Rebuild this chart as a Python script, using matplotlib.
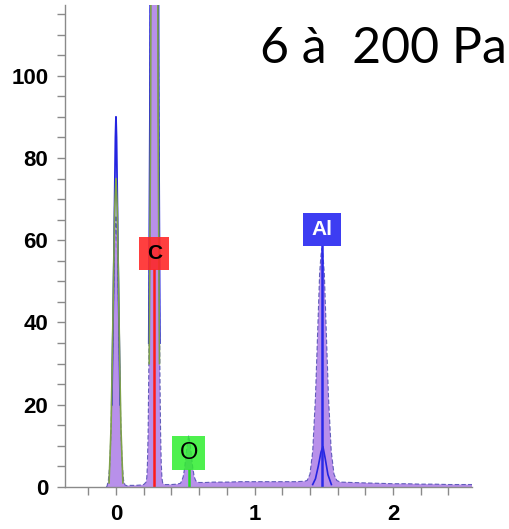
"""
EDS spectrum, low-vacuum mode (6 à 200 Pa).

Re-draw of the acquired spectrum with the C / O / Al line markers.
Output: out.png (510 x 529 px)
"""

import matplotlib
matplotlib.use("Agg")
import matplotlib.pyplot as plt
from matplotlib.patches import Rectangle
from matplotlib.ticker import MultipleLocator, FixedLocator

NAN = float("nan")

# ── Spectrum (energy in keV, counts) ──────────────────────────────────────────
energy = [
    -0.07, -0.065, -0.055, -0.045, -0.036, -0.027, -0.018, -0.009, 0.0,
    0.009, 0.018, 0.027, 0.036, 0.045, 0.055, 0.065, 0.08, 0.10, 0.14,
    0.18, 0.20, 0.217, 0.222, 0.227, 0.232, 0.237, 0.242, 0.247, 0.252,
    0.257, 0.262, 0.267, 0.272, 0.277, 0.282, 0.287, 0.292, 0.297, 0.302,
    0.307, 0.312, 0.317, 0.322, 0.327, 0.332, 0.337, 0.35, 0.40, 0.44,
    0.465, 0.475, 0.485, 0.495, 0.505, 0.515, 0.525, 0.535, 0.545, 0.555,
    0.565, 0.575, 0.585, 0.60, 0.65, 0.70, 0.80, 0.90, 1.00, 1.10, 1.20,
    1.30, 1.36, 1.38, 1.40, 1.42, 1.44, 1.455, 1.47, 1.48, 1.487, 1.494,
    1.504, 1.519, 1.534, 1.554, 1.574, 1.594, 1.62, 1.70, 1.80, 1.90,
    2.00, 2.10, 2.20, 2.30, 2.40, 2.50, 2.57,
]
counts = [
    0.0, 0.2, 1.6, 5.5, 13.5, 27.0, 45.0, 60.0, 66.0,
    60.0, 45.0, 27.0, 13.5, 5.5, 1.6, 0.5, 0.3, 0.4, 0.4,
    0.5, 0.6, 1.2, 2.2, 5.7, 13.5, 29.4, 58.9, 105.0, 170.0,
    243.0, 323.0, 379.0, 400.0, 400.0, 400.0, 379.0, 323.0, 243.0, 170.0,
    105.0, 58.9, 29.4, 13.5, 5.7, 2.2, 1.0, 0.6, 0.6, 0.7,
    0.9, 1.5, 2.5, 4.5, 7.5, 10.5, 12.5, 10.5, 7.5, 4.5,
    2.5, 1.6, 1.2, 1.1, 1.1, 1.2, 1.2, 1.3, 1.3, 1.3, 1.3,
    1.3, 1.4, 1.6, 3.1, 8.7, 22.0, 37.0, 52.0, 56.5, 58.0, 56.5,
    52.0, 37.0, 22.0, 8.7, 3.1, 1.6, 1.2, 1.1, 1.0, 0.9,
    0.8, 0.8, 0.7, 0.7, 0.6, 0.6, 0.6,
]

# raw trace (blue) where it stands above the filled spectrum
raw_energy = [-0.03, -0.018, -0.009, -0.004, 0.0, 0.004, 0.009, 0.018, 0.03,
              NAN, 0.237, 0.245, 0.252, 0.262, 0.277, 0.292, 0.302, 0.309, 0.317]
raw_counts = [20.0, 48.0, 72.0, 85.0, 90.0, 85.0, 72.0, 48.0, 20.0,
              NAN, 35.0, 90.0, 180.0, 330.0, 420.0, 330.0, 180.0, 90.0, 35.0]

# fitted curve (green) over the two low-energy peaks
fit_energy = [-0.05, -0.036, -0.027, -0.018, -0.009, 0.0, 0.009, 0.018,
              0.027, 0.036, 0.05, NAN, 0.24, 0.25, 0.26, 0.277, 0.294, 0.304,
              0.314]
fit_counts = [1.0, 14.0, 30.0, 50.0, 68.0, 75.0, 68.0, 50.0,
              30.0, 14.0, 1.0, NAN, 30.0, 90.0, 250.0, 400.0, 250.0, 90.0,
              30.0]

# Al component (small blue peak inside the Al line)
al_comp_energy = [1.42, 1.44, 1.46, 1.48, 1.494, 1.51, 1.53, 1.555]
al_comp_counts = [0.6, 2.0, 5.0, 8.5, 9.8, 7.0, 3.0, 0.6]

# element lines
element_names = ["C", "O", "Al"]
element_energy = [0.277, 0.525, 1.487]

TITLE = "6 à  200 Pa"

# ── Styles / layout ───────────────────────────────────────────────────────────
FILL_COLOR = "#b890ea"
EDGE_COLOR = "#3a3aa8"
RAW_COLOR = "#2424e0"
FIT_COLOR = "#7fa24a"
AXIS_GRAY = "#8a8a8a"

# per-label box: (centre y, width keV, height counts, face, alpha, text colour,
#                 bold, font size)
LABEL_STYLE = {
    "C": (56.7, 0.215, 8.0, "#ff2424", 0.88, "black", True, 15),
    "O": (8.25, 0.235, 8.2, "#2fee2f", 0.85, "black", False, 17),
    "Al": (62.6, 0.275, 8.2, "#3d3df2", 1.0, "white", True, 15),
}
LINE_COLOR = {"C": "#ff1a1a", "O": "#22dd22", "Al": "#2a2ae8"}

fig = plt.figure(figsize=(5.10, 5.29), dpi=100)
ax = fig.add_axes([65 / 510, 42 / 529, (472 - 65) / 510, (487 - 5) / 529])

# ── Spectrum ──────────────────────────────────────────────────────────────────
ax.fill_between(energy, counts, 0, color=FILL_COLOR, lw=0, zorder=2)
ax.plot(energy, counts, color=EDGE_COLOR, lw=0.8, alpha=0.75,
        ls=(0, (4, 2)), zorder=3)
ax.plot(raw_energy, raw_counts, color=RAW_COLOR, lw=1.3, zorder=3)
ax.plot(fit_energy, fit_counts, color=FIT_COLOR, lw=1.2, zorder=4)
ax.plot(al_comp_energy, al_comp_counts, color=RAW_COLOR, lw=1.2, zorder=4)

# ── Element markers ───────────────────────────────────────────────────────────
for name, e in zip(element_names, element_energy):
    yc, w, h, face, alpha, tcol, bold, fs = LABEL_STYLE[name]
    ax.plot([e, e], [0, yc - h / 2], color=LINE_COLOR[name], lw=1.8, zorder=5)
    ax.add_patch(Rectangle((e - w / 2, yc - h / 2), w, h, facecolor=face,
                           edgecolor="none", alpha=alpha, zorder=6))
    ax.text(e, yc, name, ha="center", va="center", color=tcol, fontsize=fs,
            fontweight="bold" if bold else "normal",
            family="Liberation Sans", zorder=7)

# ── Axes ──────────────────────────────────────────────────────────────────────
ax.set_xlim(-0.368, 2.57)
ax.set_ylim(0, 117.2)

for side in ("top", "right"):
    ax.spines[side].set_visible(False)
for side in ("left", "bottom"):
    ax.spines[side].set_color(AXIS_GRAY)
    ax.spines[side].set_linewidth(1.0)
    ax.spines[side].set_zorder(8)

ax.xaxis.set_major_locator(FixedLocator([0, 1, 2]))
ax.xaxis.set_minor_locator(MultipleLocator(0.2))
ax.yaxis.set_major_locator(MultipleLocator(20))
ax.yaxis.set_minor_locator(MultipleLocator(5))
ax.tick_params(which="both", direction="out", length=6, width=1,
               color=AXIS_GRAY)
ax.tick_params(axis="y", which="major", pad=6)
ax.tick_params(axis="x", which="major", pad=6)
for lab in ax.get_xticklabels() + ax.get_yticklabels():
    lab.set_fontfamily("Liberation Sans")
    lab.set_fontweight("bold")
    lab.set_fontsize(16)

fig.text(507 / 510, (529 - 63) / 529, TITLE, ha="right", va="baseline",
         fontsize=36, family="Lato", fontweight="normal", color="black")

fig.savefig("out.png", dpi=100)
